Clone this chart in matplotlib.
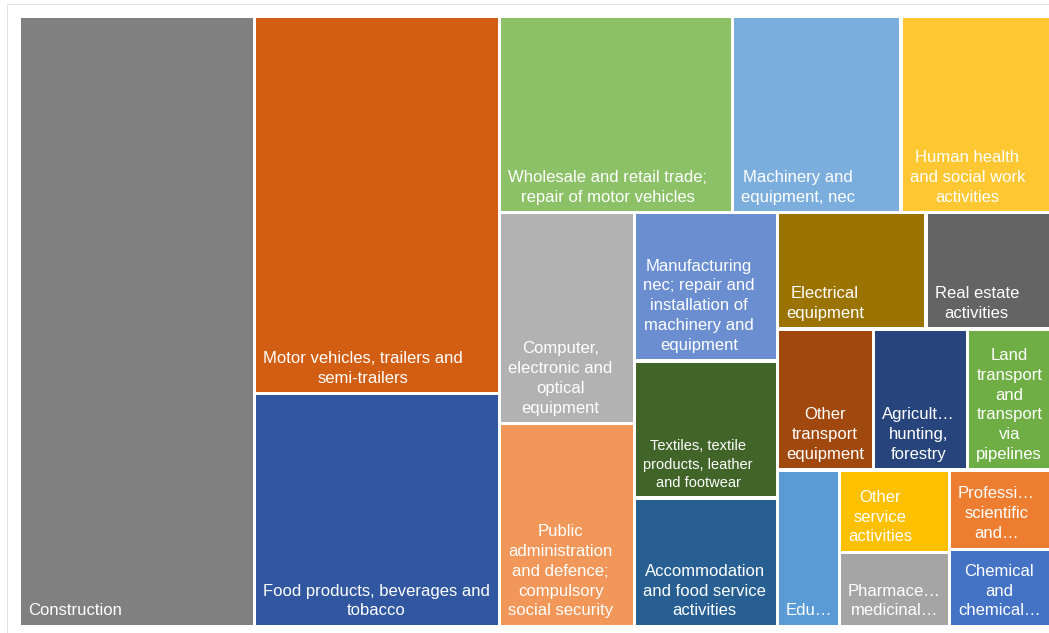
import matplotlib.pyplot as plt
from matplotlib.patches import Rectangle

plt.rcParams['font.family'] = ['Liberation Sans', 'DejaVu Sans']

sectors = [
    "Construction",
    "Motor vehicles, trailers and\nsemi-trailers",
    "Food products, beverages and\ntobacco",
    "Wholesale and retail trade;\nrepair of motor vehicles",
    "Machinery and\nequipment, nec",
    "Human health\nand social work\nactivities",
    "Computer,\nelectronic and\noptical\nequipment",
    "Public\nadministration\nand defence;\ncompulsory\nsocial security",
    "Manufacturing\nnec; repair and\ninstallation of\nmachinery and\nequipment",
    "Textiles, textile\nproducts, leather\nand footwear",
    "Accommodation\nand food service\nactivities",
    "Electrical\nequipment",
    "Real estate\nactivities",
    "Other\ntransport\nequipment",
    "Agricult…\nhunting,\nforestry",
    "Land\ntransport\nand\ntransport\nvia\npipelines",
    "Edu…",
    "Other\nservice\nactivities",
    "Pharmace…\nmedicinal…",
    "Professi…\nscientific\nand…",
    "Chemical\nand\nchemical…",
]
values = [14328, 9237, 5701, 4567, 3303, 2940, 2853, 2741, 2113, 1954, 1832,
          1728, 1453, 1356, 1328, 1175, 970, 907, 813, 806, 787]
colors = ["#808080", "#D15E12", "#30579F", "#8CC168", "#7CAEDD", "#FFC832",
          "#B2B2B2", "#F1975A", "#6A8ED0", "#416429", "#275F92", "#9B7300",
          "#646464", "#A0480E", "#27457C", "#6FAE45", "#5B9BD5", "#FFC000",
          "#A5A5A5", "#ED7D31", "#4472C4"]
font_sizes = [12] * len(sectors)
font_sizes[9] = 10.5

# how many tiles go into each strip of the layout
strips = [1, 2, 3, 2, 3, 2, 3, 1, 2, 1, 1]


def treemap(vals, groups, x, y, w, h):
    scale = w * h / float(sum(vals))
    areas = [v * scale for v in vals]
    rects = []
    i = 0
    for n in groups:
        chunk = areas[i:i + n]
        s = sum(chunk)
        if w >= h:
            # column on the left, tiles stacked top to bottom
            cw = s / h
            yy = y
            for a in chunk:
                rects.append((x, yy, cw, a / cw))
                yy += a / cw
            x += cw
            w -= cw
        else:
            # row on top, tiles from left to right
            rh = s / w
            xx = x
            for a in chunk:
                rects.append((xx, y, a / rh, rh))
                xx += a / rh
            y += rh
            h -= rh
        i += n
    return rects


W, H = 1031.5, 609.7
fig = plt.figure(figsize=(10.49, 6.33), dpi=100)
fig.patches.append(Rectangle((7 / 1049, -0.1), 1.2, 1 - 4 / 633 + 0.1,
                             transform=fig.transFigure, fill=False,
                             edgecolor="#E3E3E3", linewidth=0.8))
ax = fig.add_axes([19.5 / 1049, 1 - (16.8 + H) / 633, W / 1049, H / 633])
ax.set_xlim(0, W)
ax.set_ylim(H, 0)
ax.axis('off')

gap = 1.6
for (rx, ry, rw, rh), name, c, fs in zip(treemap(values, strips, 0, 0, W, H),
                                         sectors, colors, font_sizes):
    ax.add_patch(Rectangle((rx + gap, ry + gap), rw - 2 * gap, rh - 2 * gap,
                           facecolor=c, edgecolor='none'))
    ax.text(rx + gap + 7, ry + rh - gap - 6.5, name, color='white',
            fontsize=fs, ha='left', va='bottom', multialignment='center',
            linespacing=1.4)

fig.savefig('out.png', dpi=100)
